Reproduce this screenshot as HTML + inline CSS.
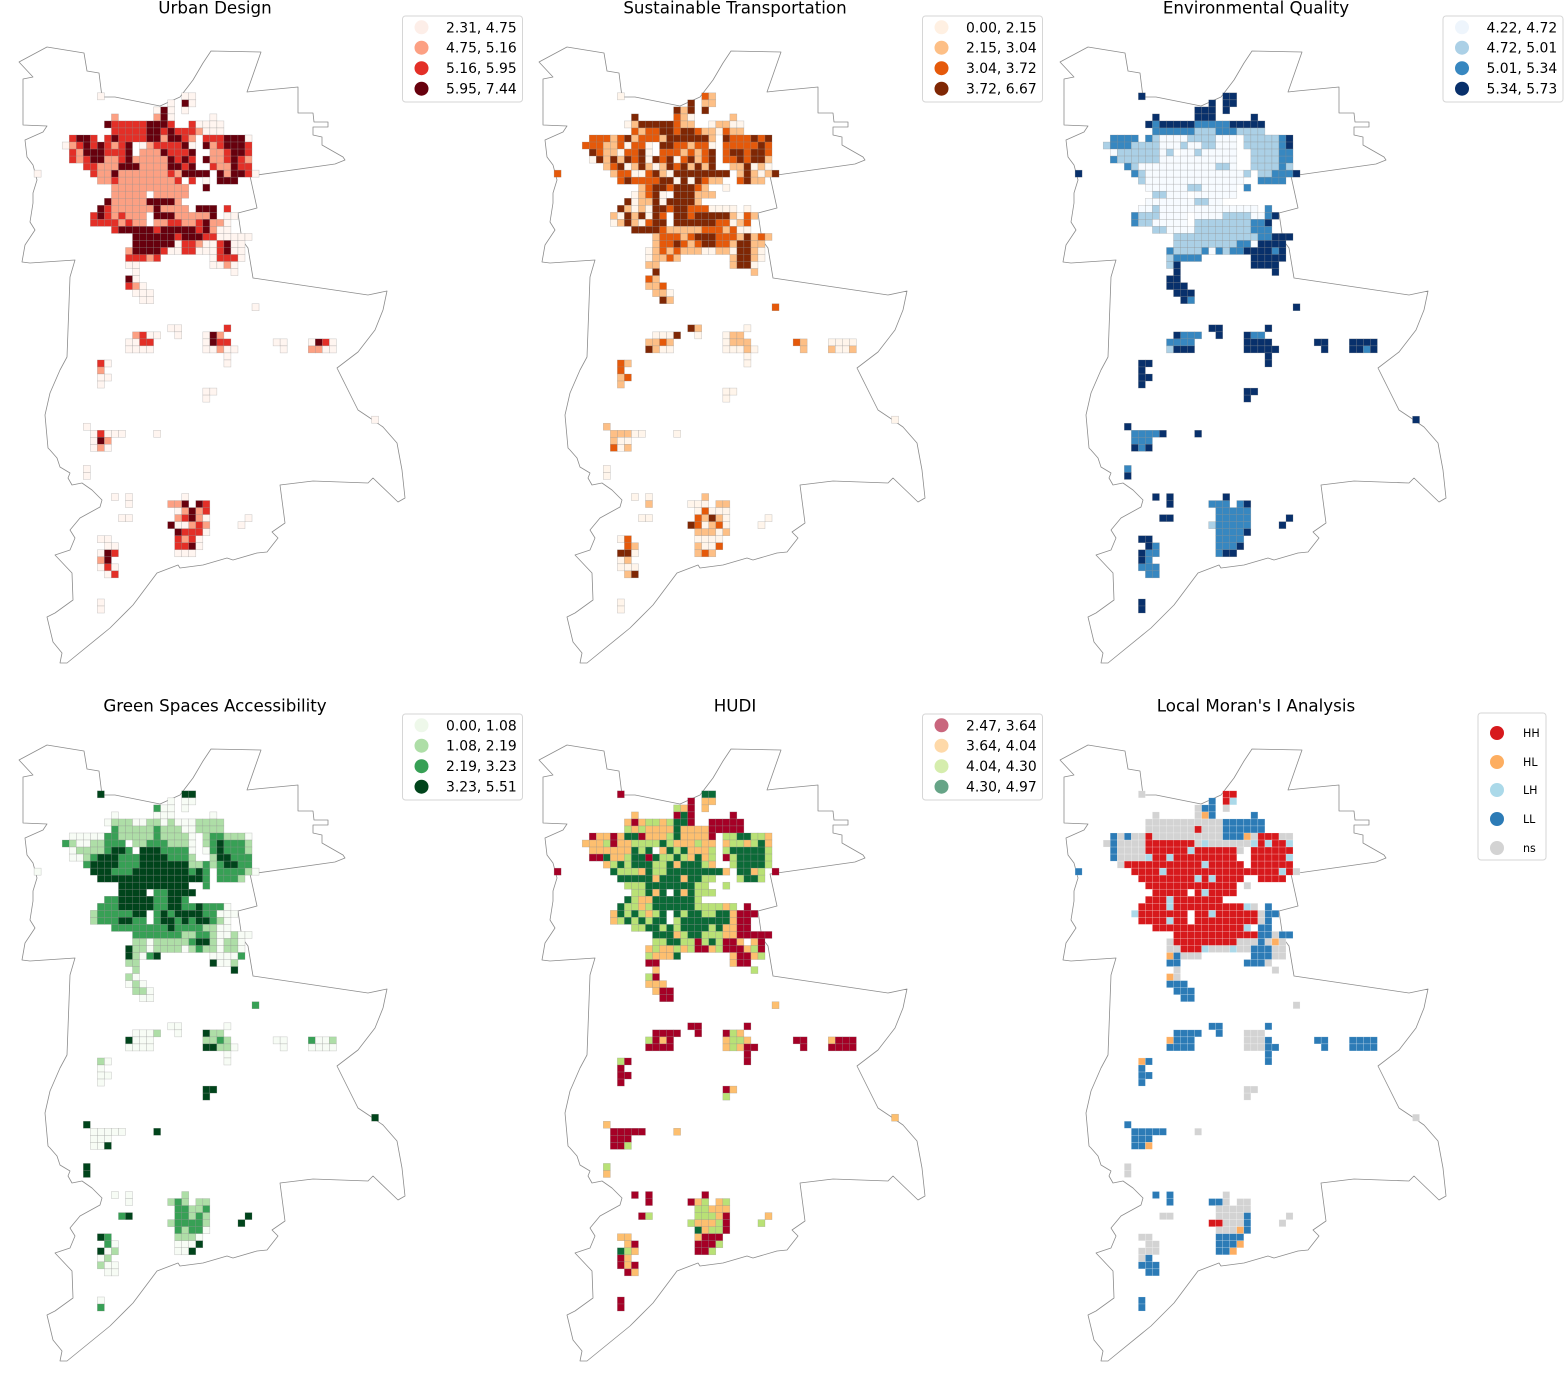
<!DOCTYPE html>
<html><head><meta charset="utf-8">
<style>
html,body{margin:0;padding:0;background:#fff;}
svg{display:block;}
text{font-family:"DejaVu Sans","Liberation Sans",sans-serif;fill:#000;}
</style></head>
<body>
<svg id="s" xmlns="http://www.w3.org/2000/svg" width="1564" height="1394" viewBox="0 0 1564 1394">
<defs>
<path id="bd" fill="none" stroke="#8c8c8c" stroke-width="0.8" stroke-linejoin="round" d="M19,62 L47,47 L84,53 L87,71 L99,73 L102,97 L115,97 L160,106 L180,97 L193,80 L203,63 L211,51 L261,52 L247,92 L256,91 L298,87 L298,113 L313,113 L314,122 L328,122 L328,127 L313,127 L313,135 L322,137 L322,145 L343,157 L345,160 L335,164 L250,176 L257,208 L238,213 L242,240 L248,248 L253,278 L368,295 L387,291 L383,310 L375,330 L358,352 L337,368 L347,388 L358,410 L370,418 L383,427 L397,443 L402,470 L405,498 L398,502 L373,478 L368,483 L313,481 L280,485 L285,523 L272,532 L278,538 L267,552 L257,553 L233,560 L227,558 L203,565 L180,568 L178,565 L157,573 L133,605 L110,628 L67,663 L60,663 L62,653 L53,642 L47,617 L55,613 L73,600 L72,573 L55,555 L70,550 L75,538 L70,530 L80,518 L100,507 L102,500 L92,490 L82,483 L72,485 L68,478 L70,473 L60,467 L57,458 L50,450 L48,448 L45,415 L50,393 L60,370 L67,357 L68,330 L70,277 L75,260 L30,263 L22,262 L25,245 L35,230 L30,222 L33,203 L33,193 L37,180 L33,165 L27,157 L25,140 L43,132 L47,126 L23,125 L23,79 L33,77 Z"/>
</defs>

<!-- Panel 1 -->
<g transform="translate(0,0)">
<use href="#bd"/>
<g id="c0" stroke="#8a8a8a" stroke-opacity="0.45" stroke-width="0.5"></g>
<text x="215" y="13.3" font-size="16.7" text-anchor="middle">Urban Design</text>
<rect x="402.5" y="16" width="120" height="86" rx="3" fill="#fff" stroke="#d6d6d6"/>
<circle cx="421.5" cy="27.3" r="7" fill="#fdeee8"/><text x="446" y="32.3" font-size="13.9">2.31, 4.75</text>
<circle cx="421.5" cy="47.7" r="7" fill="#fca083"/><text x="446" y="52.7" font-size="13.9">4.75, 5.16</text>
<circle cx="421.5" cy="68.2" r="7" fill="#e32f27"/><text x="446" y="73.2" font-size="13.9">5.16, 5.95</text>
<circle cx="421.5" cy="88.7" r="7" fill="#67000d"/><text x="446" y="93.7" font-size="13.9">5.95, 7.44</text>
</g>

<!-- Panel 2 -->
<g transform="translate(520,0)">
<use href="#bd"/>
<g id="c1" stroke="#8a8a8a" stroke-opacity="0.45" stroke-width="0.5"></g>
<text x="215" y="13.3" font-size="16.7" text-anchor="middle">Sustainable Transportation</text>
<rect x="402.5" y="16" width="120" height="86" rx="3" fill="#fff" stroke="#d6d6d6"/>
<circle cx="421.5" cy="27.3" r="7" fill="#fff0e2"/><text x="446" y="32.3" font-size="13.9">0.00, 2.15</text>
<circle cx="421.5" cy="47.7" r="7" fill="#fdbf86"/><text x="446" y="52.7" font-size="13.9">2.15, 3.04</text>
<circle cx="421.5" cy="68.2" r="7" fill="#e5590a"/><text x="446" y="73.2" font-size="13.9">3.04, 3.72</text>
<circle cx="421.5" cy="88.7" r="7" fill="#7f2704"/><text x="446" y="93.7" font-size="13.9">3.72, 6.67</text>
</g>

<!-- Panel 3 -->
<g transform="translate(1041,0)">
<use href="#bd"/>
<g id="c2" stroke="#8a8a8a" stroke-opacity="0.45" stroke-width="0.5"></g>
<text x="215" y="13.3" font-size="16.7" text-anchor="middle">Environmental Quality</text>
<rect x="402" y="16" width="120" height="86" rx="3" fill="#fff" stroke="#d6d6d6"/>
<circle cx="421" cy="27.3" r="7" fill="#eef5fc"/><text x="445.5" y="32.3" font-size="13.9">4.22, 4.72</text>
<circle cx="421" cy="47.7" r="7" fill="#abd0e6"/><text x="445.5" y="52.7" font-size="13.9">4.72, 5.01</text>
<circle cx="421" cy="68.2" r="7" fill="#3787c0"/><text x="445.5" y="73.2" font-size="13.9">5.01, 5.34</text>
<circle cx="421" cy="88.7" r="7" fill="#08306b"/><text x="445.5" y="93.7" font-size="13.9">5.34, 5.73</text>
</g>

<!-- Panel 4 -->
<g transform="translate(0,698)">
<use href="#bd"/>
<g id="c3" stroke="#8a8a8a" stroke-opacity="0.45" stroke-width="0.5"></g>
<text x="215" y="13.3" font-size="16.7" text-anchor="middle">Green Spaces Accessibility</text>
<rect x="402.5" y="16" width="120" height="86" rx="3" fill="#fff" stroke="#d6d6d6"/>
<circle cx="421.5" cy="27.3" r="7" fill="#eef8ea"/><text x="446" y="32.3" font-size="13.9">0.00, 1.08</text>
<circle cx="421.5" cy="47.7" r="7" fill="#aedea7"/><text x="446" y="52.7" font-size="13.9">1.08, 2.19</text>
<circle cx="421.5" cy="68.2" r="7" fill="#37a055"/><text x="446" y="73.2" font-size="13.9">2.19, 3.23</text>
<circle cx="421.5" cy="88.7" r="7" fill="#00441b"/><text x="446" y="93.7" font-size="13.9">3.23, 5.51</text>
</g>

<!-- Panel 5 -->
<g transform="translate(520,698)">
<use href="#bd"/>
<g id="c4" stroke="#8a8a8a" stroke-opacity="0.45" stroke-width="0.5"></g>
<text x="215" y="13.3" font-size="16.7" text-anchor="middle">HUDI</text>
<rect x="402.5" y="16" width="120" height="86" rx="3" fill="#fff" stroke="#d6d6d6"/>
<circle cx="421.5" cy="27.3" r="7" fill="#c9667d"/><text x="446" y="32.3" font-size="13.9">2.47, 3.64</text>
<circle cx="421.5" cy="47.7" r="7" fill="#fed9a9"/><text x="446" y="52.7" font-size="13.9">3.64, 4.04</text>
<circle cx="421.5" cy="68.2" r="7" fill="#d5edad"/><text x="446" y="73.2" font-size="13.9">4.04, 4.30</text>
<circle cx="421.5" cy="88.7" r="7" fill="#66a487"/><text x="446" y="93.7" font-size="13.9">4.30, 4.97</text>
</g>

<!-- Panel 6 -->
<g transform="translate(1041,698)">
<use href="#bd"/>
<g id="c5" stroke="#ffffff" stroke-opacity="0.35" stroke-width="0.5"></g>
<text x="215" y="13.3" font-size="16.7" text-anchor="middle">Local Moran's I Analysis</text>
<rect x="437" y="15" width="68" height="147" rx="3" fill="#fff" stroke="#d6d6d6"/>
<circle cx="456" cy="35" r="7" fill="#d7191c"/><text x="482" y="39" font-size="11.1">HH</text>
<circle cx="456" cy="64" r="7" fill="#fdae61"/><text x="482" y="68" font-size="11.1">HL</text>
<circle cx="456" cy="92" r="7" fill="#abd9e9"/><text x="482" y="96" font-size="11.1">LH</text>
<circle cx="456" cy="121" r="7" fill="#2c7bb6"/><text x="482" y="125" font-size="11.1">LL</text>
<circle cx="456" cy="150" r="7" fill="#d3d3d3"/><text x="482" y="154" font-size="11.1">ns</text>
</g>
</svg>

<script>
(function(){
var CS=7.03,X0=13,Y0=43.6;
var SL="40,22;40,23;41,23;41,17;41,18;41,19;41,20;42,16;42,17;42,18;42,19;43,16;43,17;43,18;43,19;40,30;41,27;41,28;41,29;42,27;42,28;42,29;42,30;43,27;43,28;43,29;43,30;43,31;44,30;45,30;42,37;42,38;43,38;42,42;42,43;42,44;42,45;43,42;43,43;43,44;43,45;45,12;45,13;46,12;47,12;47,13;48,12;49,27;49,28;50,27;54,10;55,11;55,12;55,13;55,14;55,15;56,11;56,12;56,13;57,11;57,12;57,13;55,20;60,10;61,10;64,14;64,16;65,16;67,15;67,16;64,24;65,22;65,23;65,24;65,26;65,27;66,23;66,24;66,25;66,26;66,27;67,23;67,24;67,25;67,26;67,27;68,22;68,23;68,24;68,25;68,26;68,27;69,23;69,24;69,25;69,26;69,27;70,23;70,24;70,25;70,26;71,23;71,24;71,25;71,26;72,23;72,24;72,25;67,33;68,32;70,12;70,13;71,13;71,14;72,12;72,13;72,14;73,12;73,13;74,12;74,13;74,14;75,13;75,14;79,12;80,12;53,51;18,3".split(';').map(function(s){return s.split(',').map(Number);});

var PAN=[
{id:'c0',col:{'0':'#fff5f0','1':'#fca083','2':'#e32f27','3':'#67000d'},
south:"0001200002"+"2000020310"+"3220010000"+"0000320110"+"0201000000"+"0020000310"+"1000000000"+"0113320131"+"2123103001"+"2132220212"+"0223000000"+"0000032130"+"2002000"+"0",
main:[
".............................",
".....0...........00..........",
"...............0.30..........",
".............030.0...........",
".......1.....130.....0.......",
"......3222223332..20000......",
".......2222233232221000......",
".2332.2322223313321.2223330..",
"0123232123.01222230.3123332..",
".213332223.11132223..112332..",
".212331123111113232.3112321..",
"...2211133311113323..211322..",
"....21131111111213333.313320.",
".....112111111112.2.0.333....",
".......11111111111..3........",
".......11111.11111..........",
"......31111133331............",
".....3211111131111.333.2.....",
"....23212111.333111113.00....",
"....22221211.11221123110.....",
".......23333323333323100.....",
"..........33333323332200000..",
"..........3333330221002300...",
".........13333200220002300...",
".........22212.......02220...",
".........00..........0010....",
"..........0.............0....",
".........30..................",
".........210.................",
"..........000................",
"...........00................",
"...........................0."]},
{id:'c1',col:{'0':'#fff5eb','1':'#fdbf86','2':'#e5590a','3':'#7f2704'},
south:"3100003112"+"1310000110"+"1110001000"+"2110000100"+"1212121000"+"1111001002"+"0100000100"+"1000110200"+"0213103201"+"2011101000"+"0100212100"+"0221330010"+"0013000"+"2",
main:[
".............................",
".....0...........21..........",
"...............3.11..........",
".............313.3...........",
".......3.....210.....1.......",
"......0133333211..01100......",
".......2122332332110211......",
".222123122213333331.3222323..",
"2221120220.33221220.2222232..",
".321102230.22212123.2332332..",
".031313230323023123.2232331..",
"...1230131013231313..113010..",
"....12200231033333333.131013.",
".....232222330303211..2311...",
"........1233233321..0........",
".......01230.333111..........",
"......30113033331............",
".....31010332332220000.0.....",
"....10313032.332333331021....",
"....01310233.33333322012.....",
".......33332111112221200.....",
"..........12221233322213121..",
"..........1223212332213311...",
".........01212111001103310...",
".........01121.......13310...",
".........11..........1330....",
"..........3.............1....",
".........21..................",
".........112.................",
"..........110................",
"...........31................",
"...........................2."]},
{id:'c2',col:{'0':'#f7fbff','1':'#abd0e6','2':'#3787c0','3':'#08306b'},
south:"3333222222"+"2133333223"+"3333333333"+"3333333332"+"3333333333"+"3222232223"+"2332333333"+"3222232222"+"2222221222"+"2222223222"+"2222323333"+"3332322322"+"2222333"+"3",
main:[
".............................",
".....3...........33..........",
"...............3.33..........",
".............333.3...........",
".......3.....333.....3.......",
"......32333332222233333......",
".......2222221112221111......",
".2222.2100001111000.1111123..",
"1222111100010011000.1111123..",
".011111101.00100000..111122..",
".211111100000000000..111122..",
"...2100000000000110..111121..",
"....21000000000000001.112223.",
".....100000000000000..2222...",
"......0000001100000.2........",
".......11000.000000..........",
"......00000001100............",
".....00100000000000000.2.....",
"....21110000.000011110023....",
"....21100000.11111111223.....",
".......11000011111111222.....",
"..........11111111111122333..",
"..........1111111112203333...",
".........21111202122333323...",
".........12222.......33333...",
".........13..........3333....",
"..........3.............3....",
".........33..................",
".........333.................",
"..........333................",
"...........32................",
"...........................3."]},
{id:'c3',col:{'0':'#f7fcf5','1':'#aedea7','2':'#37a055','3':'#00441b'},
south:"0000001300"+"0000003111"+"1213311000"+"0002001000"+"0100000333"+"3000000000"+"0333300023"+"1121112211"+"2221211222"+"2121220111"+"0000300333"+"3220301011"+"0000023"+"0",
main:[
".............................",
".....3...........33..........",
"...............0.00..........",
".............200.0...........",
".......0.....000.....0.......",
"......01110011010001111......",
".......2111112111001111......",
".000002211111211110.1221110..",
"210011222.112221110.1232221..",
".011112332.33322220.0232221..",
".001233322233332221..133222..",
"...233332223333333112123322..",
"....33322233333333232.222210.",
".....3333333333333332.2221...",
"........3333333333..2........",
"........3333.223333..........",
"......223333322332...........",
".....2223333322332232220.....",
"....12222233.232333322000....",
"....12223322.23323233210.....",
".......22222222322221100.....",
"..........22222221122100100..",
"..........1101111123310110...",
".........31101111012110110...",
".........31023.......00002...",
".........11..........3001....",
"..........1.............3....",
".........10..................",
".........010.................",
"..........110................",
"...........00................",
"...........................2."]},
{id:'c4',col:{'0':'#a50026','1':'#fdbf6f','2':'#b9e176','3':'#0b6a37'},
south:"0000000201"+"0000000211"+"2211210000"+"0001000000"+"0200000012"+"1000000000"+"0212100002"+"0012122211"+"1222102111"+"2031220100"+"0000200212"+"1110321010"+"1001001"+"0",
main:[
".............................",
".....0...........33..........",
"...............0.11..........",
".............210.1...........",
".......1.....030.....0.......",
"......1012212330..00000......",
"......21211113111100000......",
".011013301112311110.2233221..",
"1112011222232111211.1221231..",
".111111323.13231112.2333332..",
".003112330322321312.0233332..",
"...1232333223133321..233332..",
"....32221322333333331.3312.0.",
".....33333133313322...2332...",
"......222333333322..2........",
".......22313.313222..........",
"......32113333332............",
".....32212333333222212.0.....",
"....13232123.323322331000....",
"....12323233.23333333100.....",
".......22332323333231100.....",
"..........33312332221100000..",
"..........2233220232001.10...",
".........12112120012000120...",
".........21113.......10012...",
".........00..........100.....",
"..........1.............2....",
".........20..................",
".........111.................",
"..........100................",
"...........00................",
"...........................1."]},
{id:'c5',col:{'G':'#d3d3d3','R':'#d7191c','O':'#fdae61','L':'#abd9e9','B':'#2c7bb6'},
south:"BBBBBBBOBB"+"BBBBBBGGGG"+"GGBGGGBBBB"+"BBBBBBBBBB"+"BOBBBBBGGG"+"BBBBBBBBBB"+"BOGGGBBBGG"+"GBBGGGGGGG"+"GGGGGBRRGG"+"GBGGGOBBBB"+"BBBBOBBOGG"+"GGGGGGGGBB"+"BBBBBBG"+"B",
main:[
".............................",
".....G...........RR..........",
"...............B.RL..........",
".............GBB.G...........",
".......G.....GOB.....B.......",
"......GGGGGGGGGGGBBBBBB......",
"......GGGGGGGRGGGBBBBBB......",
".BGBGGRGGGGGGGGGGBBBOGRRRGG..",
"GBGGGGRRRRRRRGLGGGGGGLRLRRL..",
".BGGGGRRRRRRLRRRRRRG.RRRRRR..",
".BGGGGLRRLRRRRRRRRR..RRRRRL..",
"..GRRRRRRRRRRRLRRRRR.RRRRRR..",
"....RRRRLRRRRRRRRRRRRRRRRLRG.",
".....RRRRRRRRLRLRRRR..RRRR...",
"......RRRRRRRRRRRRR.G........",
".......RRRRR.RLRRRR..........",
"......RRRLRRRRRRR............",
".....RRRRLRRRRRRRRRRLG.B.....",
"....LRRRRRRR.RRLRRRRRRGBB....",
".....RRRRLRR.RRRRRRRRRGB.....",
".......RRRRRRRRRRRRRL.BB.....",
"..........RRRRRRRRRRRRBBGBB..",
".........GRRRRRRRRRGGGBGOG...",
".........GGRRRLGGGLGGBBBGG...",
".........OBGGG.......BBBGG...",
".........BB.........BBBG.....",
"..........G.............G....",
".........OG..................",
".........BBB.................",
"..........BBB................",
"...........BB................",
"...........................G."]}
];
var NS="http://www.w3.org/2000/svg";
PAN.forEach(function(p){
  var g=document.getElementById(p.id);
  function add(r,c,ch){
    var col=p.col[ch]; if(!col) return;
    var e=document.createElementNS(NS,'rect');
    e.setAttribute('x',(X0+CS*c).toFixed(2));
    e.setAttribute('y',(Y0+CS*r).toFixed(2));
    e.setAttribute('width',CS);
    e.setAttribute('height',CS);
    e.setAttribute('fill',col);
    g.appendChild(e);
  }
  p.main.forEach(function(row,i){
    for(var j=0;j<row.length;j++){var ch=row.charAt(j); if(ch!=='.') add(6+i,7+j,ch);}
  });
  for(var k=0;k<SL.length;k++){ add(SL[k][0],SL[k][1],p.south.charAt(k)); }
});
})();
</script>
</body></html>
